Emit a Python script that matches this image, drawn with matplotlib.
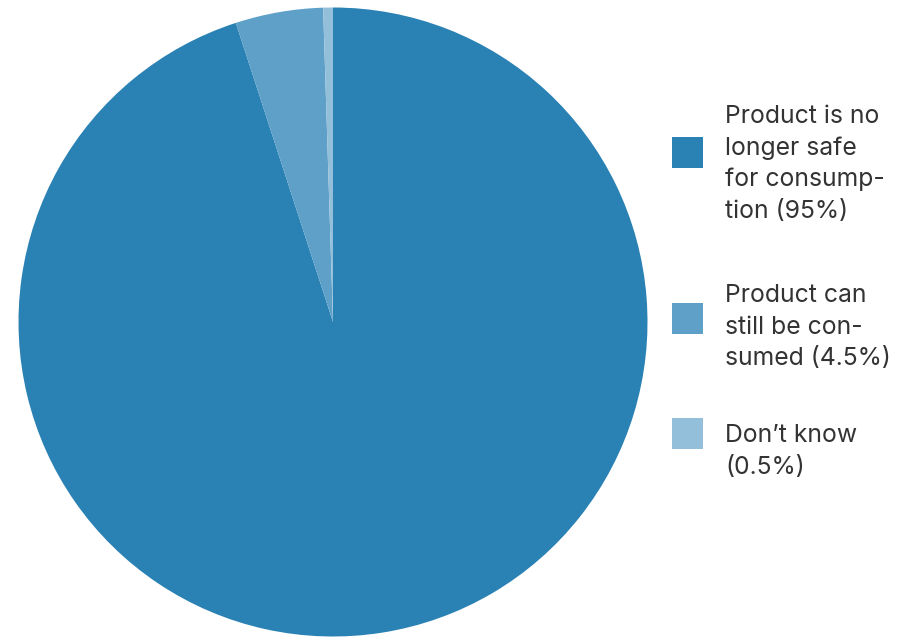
import matplotlib
matplotlib.use("Agg")
import matplotlib.pyplot as plt
from matplotlib.patches import Rectangle

# Survey answers and their shares (percent)
label_lines = [
    ["Product is no", "longer safe", "for consump-", "tion"],
    ["Product can", "still be con-", "sumed"],
    ["Don\u2019t know"],
]
shares = [95, 4.5, 0.5]
colors = ["#2a81b4", "#5ea0c8", "#93bfdb"]

W, H = 909, 637
fig = plt.figure(figsize=(W / 100, H / 100), dpi=100)
ax = fig.add_axes([0, 0, 1, 1])

# Pie in pixel coordinates (y axis inverted): starts at the top and runs clockwise
ax.pie(shares, colors=colors, startangle=270, counterclock=True,
       center=(333, 322), radius=314.5, frame=True,
       wedgeprops=dict(linewidth=0))
ax.set_xlim(0, W)
ax.set_ylim(H, 0)
ax.set_aspect("equal")
ax.axis("off")

# Legend: swatches and wrapped labels
font = dict(family="Inter", fontsize=17.8, color="#333333")
swatch_tops = [137, 303, 418]
first_baselines = [123, 302, 442]
line_step = 31.6
for lines, v, c, top, base in zip(label_lines, shares, colors,
                                  swatch_tops, first_baselines):
    ax.add_patch(Rectangle((672, top), 31, 31, facecolor=c, edgecolor="none"))
    pct = f"({v:g}%)"
    if len(lines) == 1:
        full = lines + [pct]
    else:
        full = lines[:-1] + [f"{lines[-1]} {pct}"]
    for i, ln in enumerate(full):
        ax.text(725, base + i * line_step, ln, va="baseline", ha="left", **font)

fig.savefig("out.png", dpi=100)
